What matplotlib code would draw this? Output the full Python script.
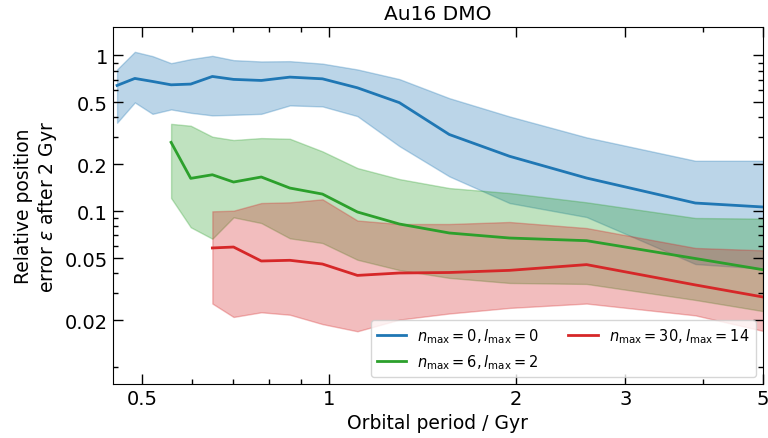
import matplotlib
matplotlib.use("Agg")
import matplotlib.pyplot as plt
import numpy as np
from matplotlib.ticker import FixedLocator, NullFormatter

# orbital periods (Gyr)
period = [0.455, 0.486, 0.519, 0.556, 0.598, 0.648, 0.701, 0.777, 0.864, 0.975,
          1.110, 1.297, 1.561, 1.952, 2.598, 3.89, 5.0]

# nmax=0, lmax=0
blue_med = [0.642, 0.712, 0.681, 0.648, 0.655, 0.733, 0.702, 0.691, 0.726, 0.708,
            0.620, 0.498, 0.311, 0.2255, 0.1635, 0.113, 0.1066]
blue_hi = [0.813, 1.055, 0.99, 0.892, 0.947, 0.994, 0.933, 0.915, 0.919, 0.886,
           0.813, 0.705, 0.532, 0.406, 0.298, 0.211, 0.211]
blue_lo = [0.370, 0.4995, 0.422, 0.4505, 0.4286, 0.4125, 0.416, 0.422, 0.478, 0.471,
           0.408, 0.262, 0.1676, 0.113, 0.0919, 0.0459, 0.0429]

# nmax=6, lmax=2 (starts at 4th period)
green_med = [0.277, 0.1627, 0.1716, 0.1541, 0.166, 0.141, 0.129,
             0.099, 0.0829, 0.0726, 0.0674, 0.0648, 0.0498, 0.0422]
green_hi = [0.364, 0.354, 0.301, 0.2866, 0.295, 0.292, 0.2424,
            0.1895, 0.161, 0.141, 0.131, 0.1142, 0.0906, 0.0897]
green_lo = [0.1217, 0.079, 0.0667, 0.0915, 0.0841, 0.0671, 0.0626,
            0.0489, 0.042, 0.0374, 0.0347, 0.0342, 0.027, 0.0229]

# nmax=30, lmax=14 (starts at 6th period)
red_med = [0.0582, 0.059, 0.048, 0.0485, 0.0459,
           0.0388, 0.0402, 0.0405, 0.0418, 0.0455, 0.0337, 0.0282]
red_hi = [0.1, 0.1009, 0.113, 0.1142, 0.1194,
          0.0873, 0.0829, 0.0829, 0.0854, 0.0781, 0.0582, 0.0562]
red_lo = [0.0256, 0.021, 0.0225, 0.0217, 0.0189,
          0.017, 0.0202, 0.0221, 0.024, 0.0256, 0.0215, 0.0171]

fig = plt.figure(figsize=(7.68, 4.39), dpi=100)
ax = fig.add_axes([0.147, 0.123, 0.8465, 0.813])

series = [
    (period, blue_med, blue_lo, blue_hi, 'tab:blue', r'$n_{\rm max}=0, l_{\rm max}=0$'),
    (period[3:], green_med, green_lo, green_hi, 'tab:green', r'$n_{\rm max}=6, l_{\rm max}=2$'),
    (period[5:], red_med, red_lo, red_hi, 'tab:red', r'$n_{\rm max}=30, l_{\rm max}=14$'),
]
for x, med, lo, hi, c, lab in series:
    ax.fill_between(x, lo, hi, color=c, alpha=0.3)
    ax.plot(x, med, color=c, lw=2, label=lab)

ax.set_xscale('log')
ax.set_yscale('log')
ax.set_xlim(0.448, 5.0)
ax.set_ylim(0.0078, 1.52)

xt = [0.5, 1, 2, 3, 5]
ax.xaxis.set_major_locator(FixedLocator(xt))
ax.set_xticklabels(['0.5', '1', '2', '3', '5'])
ax.xaxis.set_minor_locator(FixedLocator([0.6, 0.7, 0.8, 0.9, 4]))
ax.xaxis.set_minor_formatter(NullFormatter())

yt = [0.02, 0.05, 0.1, 0.2, 0.5, 1]
ax.yaxis.set_major_locator(FixedLocator(yt))
ax.set_yticklabels(['0.02', '0.05', '0.1', '0.2', '0.5', '1'])
ax.yaxis.set_minor_locator(FixedLocator([0.01, 0.03, 0.04, 0.06, 0.07, 0.08, 0.09,
                                         0.3, 0.4, 0.6, 0.7, 0.8, 0.9]))
ax.yaxis.set_minor_formatter(NullFormatter())

ax.tick_params(which='both', direction='in', top=True, right=True, labelsize=14)
ax.tick_params(which='major', length=7, width=1)
ax.tick_params(which='minor', length=3.5, width=1)

ax.set_xlabel('Orbital period / Gyr', fontsize=13.5)
ax.set_ylabel('Relative position\n' + r'error $\varepsilon$ after 2 Gyr', fontsize=13.5)
ax.set_title('Au16 DMO', fontsize=14.5)
ax.legend(loc='lower right', ncol=2, fontsize=10.5)

fig.savefig('out.png', dpi=100)
